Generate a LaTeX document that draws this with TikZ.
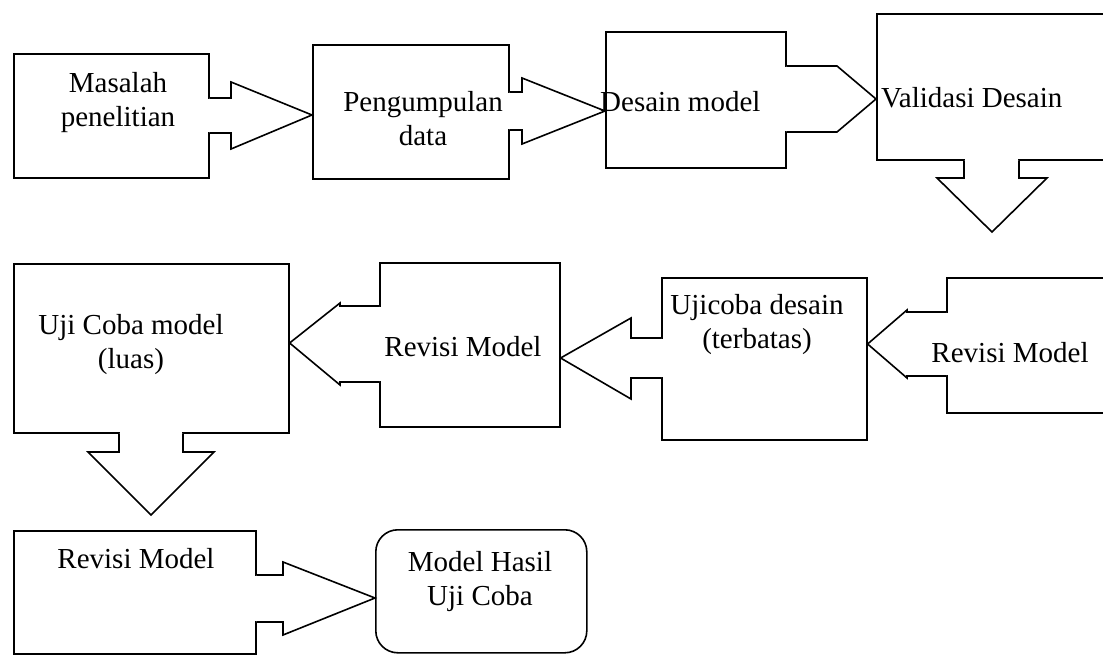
\documentclass[tikz,border=0pt]{standalone}
\usepackage{fontspec}
\setmainfont{Liberation Serif}
\usetikzlibrary{calc}

\begin{document}
\begin{tikzpicture}[x=1pt,y=-1pt,line join=miter]
\path[fill=white] (0,0) rectangle (1103,655);
\clip (0,0) rectangle (1103,655);
\tikzset{stage/.style={draw=black,line width=1.6pt,inner sep=0pt,anchor=north west},
  txt/.style={font=\fontsize{29}{34}\selectfont,inner sep=0pt,align=center},
  callout/.style={draw=black,fill=white,line width=1.6pt},
  opening/.style={fill=white}}
% boxes, row 1
\node[stage,minimum width=195pt,minimum height=124pt] (masalah) at (13,53) {};
\node[stage,minimum width=196pt,minimum height=134pt] (pengumpulan) at (312,44) {};
\node[stage,minimum width=180pt,minimum height=136pt] (desain) at (605,31) {};
\node[stage,minimum width=250pt,minimum height=146pt] (validasi) at (876,13) {};
% boxes, row 2
\node[stage,minimum width=200pt,minimum height=135pt] (revisiA) at (946,277) {};
\node[stage,minimum width=205pt,minimum height=162pt] (ujicoba) at (661,277) {};
\node[stage,minimum width=180pt,minimum height=164pt] (revisiB) at (379,262) {};
\node[stage,minimum width=275pt,minimum height=169pt] (ujiluas) at (13,263) {};
% boxes, row 3
\node[stage,minimum width=242pt,minimum height=123pt] (revisiC) at (13,530) {};
\node[stage,rounded corners=22pt,minimum width=211pt,minimum height=123pt] (hasil) at (375,529) {};
\coordinate (downA) at (992,232);
\coordinate (downB) at (151,515);
% openings in the box edges
\path[opening] ($(masalah.east |- 0,99)+(-3,0)$) rectangle ($(masalah.east |- 0,132)+(3,0)$);
\path[opening] ($(pengumpulan.east |- 0,93)+(-3,0)$) rectangle ($(pengumpulan.east |- 0,129)+(3,0)$);
\path[opening] ($(desain.east |- 0,67)+(-3,0)$) rectangle ($(desain.east |- 0,131)+(3,0)$);
\path[opening] ($(validasi.south -| 965,0)+(0,-3)$) rectangle ($(validasi.south -| 1018,0)+(0,3)$);
\path[opening] ($(revisiA.west |- 0,313)+(-3,0)$) rectangle ($(revisiA.west |- 0,375)+(3,0)$);
\path[opening] ($(ujicoba.west |- 0,339)+(-3,0)$) rectangle ($(ujicoba.west |- 0,377)+(3,0)$);
\path[opening] ($(revisiB.west |- 0,307)+(-3,0)$) rectangle ($(revisiB.west |- 0,381)+(3,0)$);
\path[opening] ($(ujiluas.south -| 120,0)+(0,-3)$) rectangle ($(ujiluas.south -| 182,0)+(0,3)$);
\path[opening] ($(revisiC.east |- 0,576)+(-3,0)$) rectangle ($(revisiC.east |- 0,621)+(3,0)$);
% block arrows
\draw[callout] (masalah.east |- 0,98) -- (231,98) -- (231,82) -- (pengumpulan.west |- 0,115) -- (231,149) -- (231,133) -- (masalah.east |- 0,133);
\draw[callout] (pengumpulan.east |- 0,92) -- (522,92) -- (522,78) -- (desain.west |- 0,111) -- (522,144) -- (522,130) -- (pengumpulan.east |- 0,130);
\draw[callout] (desain.east |- 0,66) -- (837,66) -- (validasi.west |- 0,99) -- (837,132) -- (desain.east |- 0,132);
\draw[callout] (validasi.south -| 964,0) -- (964,178) -- (937,178) -- (downA) -- (1047,178) -- (1019,178) -- (validasi.south -| 1019,0);
\draw[callout] (revisiA.west |- 0,312) -- (907,312) -- (907,310) -- (ujicoba.east |- 0,344) -- (907,378) -- (907,376) -- (revisiA.west |- 0,376);
\draw[callout] (ujicoba.west |- 0,338) -- (631,338) -- (631,318) -- (revisiB.east |- 0,358) -- (631,399) -- (631,378) -- (ujicoba.west |- 0,378);
\draw[callout] (revisiB.west |- 0,306) -- (340,306) -- (340,303) -- (ujiluas.east |- 0,343) -- (340,385) -- (340,382) -- (revisiB.west |- 0,382);
\draw[callout] (ujiluas.south -| 119,0) -- (119,452) -- (88,452) -- (downB) -- (214,452) -- (183,452) -- (ujiluas.south -| 183,0);
\draw[callout] (revisiC.east |- 0,575) -- (283,575) -- (283,562) -- (hasil.west |- 0,598) -- (283,635) -- (283,622) -- (revisiC.east |- 0,622);
% texts
\node[txt] (tMasalah) at (118,103) {Masalah\\penelitian};
\node[txt] (tPengumpulan) at (423,119) {Pengumpulan\\data};
\node[txt,anchor=base west] (tDesain) at (600,112) {Desain model};
\node[txt,anchor=base west] (tValidasi) at (881,108) {Validasi Desain};
\node[txt,anchor=base] (tRevisiA) at (1010,362) {Revisi Model};
\node[txt] (tUjicoba) at (757,325) {Ujicoba desain\\(terbatas)};
\node[txt,anchor=base] (tRevisiB) at (463,356) {Revisi Model};
\node[txt] (tUjiluas) at (131,345) {Uji Coba model\\(luas)};
\node[txt,anchor=base] (tRevisiC) at (136,568) {Revisi Model};
\node[txt] (tHasil) at (480,582) {Model Hasil\\Uji Coba};
\end{tikzpicture}
\end{document}
